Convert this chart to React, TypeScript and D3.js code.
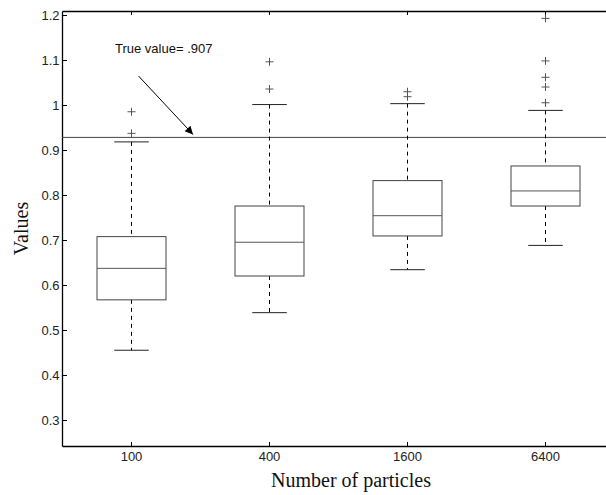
import React, { useEffect, useRef } from 'react';
import * as d3 from 'd3';

const width = 606;
const height = 495;
const margin = { top: 11, left: 62, bottom: 49, right: -8 };

// particle counts on the x axis
const categories = ['100', '400', '1600', '6400'];
// box statistics
const upperWhisker = [0.918, 1.001, 1.003, 0.988];
const q3 = [0.7075, 0.7755, 0.832, 0.8645];
const medians = [0.637, 0.695, 0.754, 0.809];
const q1 = [0.567, 0.62, 0.709, 0.7755];
const lowerWhisker = [0.455, 0.5385, 0.634, 0.688];
const outliers = [
  [0.985, 0.937],
  [1.096, 1.0355],
  [1.0295, 1.0185],
  [1.1925, 1.098, 1.0615, 1.04, 1.005],
];
const yTicks = [0.3, 0.4, 0.5, 0.6, 0.7, 0.8, 0.9, 1, 1.1, 1.2];
const trueValue = 0.928;
const trueLabel = 'True value= .907';

const App = () => {
  const ref = useRef(null);

  useEffect(() => {
    document.body.style.margin = '0';
    document.body.style.overflow = 'hidden';
    const svg = d3.select(ref.current);
    svg.selectAll('*').remove();

    const x = d3.scaleLinear()
      .domain([0.5, 4.5])
      .range([margin.left, width - margin.right]);
    const y = d3.scaleLinear()
      .domain([0.2422, 1.2089])
      .range([height - margin.bottom, margin.top]);
    const pos = i => x(i + 1);

    const font = '"Liberation Sans", Arial, sans-serif';

    // axes (MATLAB style, ticks inward)
    const bottom = svg.append('g')
      .attr('transform', `translate(0,${height - margin.bottom})`)
      .call(d3.axisBottom(x)
        .tickValues([1, 2, 3, 4])
        .tickFormat(d => categories[d - 1])
        .tickSizeInner(-4)
        .tickSizeOuter(0)
        .tickPadding(6));
    const top = svg.append('g')
      .attr('transform', `translate(0,${margin.top})`)
      .call(d3.axisTop(x)
        .tickValues([1, 2, 3, 4])
        .tickFormat(() => '')
        .tickSizeInner(-4)
        .tickSizeOuter(0));
    const left = svg.append('g')
      .attr('transform', `translate(${margin.left},0)`)
      .call(d3.axisLeft(y)
        .tickValues(yTicks)
        .tickFormat(d => String(d))
        .tickSizeInner(-5)
        .tickSizeOuter(0)
        .tickPadding(2.5));

    [bottom, top, left].forEach((g) => {
      g.attr('font-size', null).attr('font-family', null);
      g.selectAll('path').attr('stroke', '#000').attr('stroke-width', 1.3);
      g.selectAll('line').attr('stroke', '#000');
      g.selectAll('text')
        .style('font-family', font)
        .style('font-size', '13px')
        .attr('fill', '#222');
    });

    // true value line
    svg.append('line')
      .attr('x1', margin.left)
      .attr('x2', width - margin.right)
      .attr('y1', y(trueValue))
      .attr('y2', y(trueValue))
      .attr('stroke', '#444')
      .attr('stroke-width', 1);

    const bw = x(1.25) - x(1);
    const cw = x(1.125) - x(1);

    categories.forEach((c, i) => {
      const cx = Math.round(pos(i)) + 0.5;
      const g = svg.append('g');
      // whiskers
      g.append('line')
        .attr('x1', cx).attr('x2', cx)
        .attr('y1', y(upperWhisker[i])).attr('y2', y(q3[i]))
        .attr('stroke', '#000')
        .attr('stroke-dasharray', '4,4');
      g.append('line')
        .attr('x1', cx).attr('x2', cx)
        .attr('y1', y(q1[i])).attr('y2', y(lowerWhisker[i]))
        .attr('stroke', '#000')
        .attr('stroke-dasharray', '4,4');
      [upperWhisker[i], lowerWhisker[i]].forEach((v) => {
        g.append('line')
          .attr('x1', cx - cw).attr('x2', cx + cw)
          .attr('y1', y(v)).attr('y2', y(v))
          .attr('stroke', '#222');
      });
      // box
      g.append('rect')
        .attr('x', cx - bw)
        .attr('y', y(q3[i]))
        .attr('width', bw * 2)
        .attr('height', y(q1[i]) - y(q3[i]))
        .attr('fill', 'none')
        .attr('stroke', '#444');
      g.append('line')
        .attr('x1', cx - bw).attr('x2', cx + bw)
        .attr('y1', y(medians[i])).attr('y2', y(medians[i]))
        .attr('stroke', '#555');
      // outliers
      outliers[i].forEach((v) => {
        g.append('path')
          .attr('d', `M${cx - 4},${y(v)}h8M${cx},${y(v) - 4}v8`)
          .attr('stroke', '#555')
          .attr('fill', 'none');
      });
    });

    // annotation
    svg.append('text')
      .attr('x', 115)
      .attr('y', 53)
      .attr('font-family', font)
      .attr('font-size', 13)
      .attr('fill', '#111')
      .text(trueLabel);

    svg.append('defs').append('marker')
      .attr('id', 'head')
      .attr('viewBox', '0 0 10 10')
      .attr('refX', 10)
      .attr('refY', 5)
      .attr('markerWidth', 11)
      .attr('markerHeight', 8)
      .attr('markerUnits', 'userSpaceOnUse')
      .attr('orient', 'auto')
      .append('path')
      .attr('d', 'M0,0L10,5L0,10z')
      .attr('fill', '#000');

    svg.append('line')
      .attr('x1', 138.5)
      .attr('y1', 76)
      .attr('x2', 193)
      .attr('y2', y(trueValue) - 3)
      .attr('stroke', '#000')
      .attr('stroke-width', 1)
      .attr('marker-end', 'url(#head)');

    // axis titles
    svg.append('text')
      .attr('x', (margin.left + 642) / 2 - 1)
      .attr('y', 487)
      .attr('text-anchor', 'middle')
      .attr('font-family', '"Liberation Serif", "Times New Roman", serif')
      .attr('font-size', 20)
      .attr('fill', '#111')
      .text('Number of particles');

    svg.append('text')
      .attr('transform', `translate(28,${(margin.top + height - margin.bottom) / 2}) rotate(-90)`)
      .attr('text-anchor', 'middle')
      .attr('font-family', '"Liberation Serif", "Times New Roman", serif')
      .attr('font-size', 20)
      .attr('fill', '#111')
      .text('Values');
  }, []);

  return (
    <svg
      ref={ref}
      width={width}
      height={height}
      style={{ position: 'absolute', left: 0, top: 0, background: '#fff', display: 'block' }}
    />
  );
};

export default App;
